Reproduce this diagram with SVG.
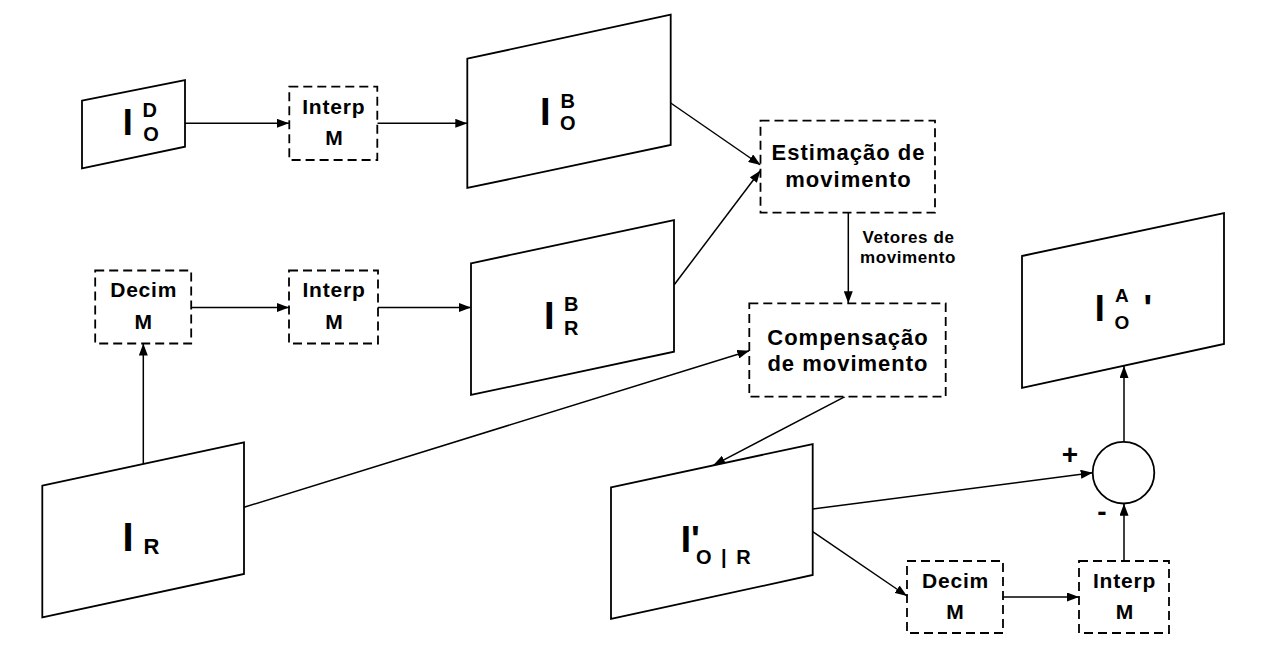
<svg xmlns="http://www.w3.org/2000/svg" width="1271" height="648" viewBox="0 0 1271 648">
<style>
.shape{fill:#fff;stroke:#000;stroke-width:1.8;stroke-linejoin:miter}
.box{fill:#fff;stroke:#000;stroke-width:1.8;stroke-dasharray:9 5}
.con{fill:none;stroke:#000;stroke-width:1.5}
text{font-family:"Liberation Sans",Arial,sans-serif;font-weight:bold;fill:#000}
.bt{font-size:21px;letter-spacing:0.8px;text-anchor:middle}
.lt{font-size:22px;letter-spacing:1px;text-anchor:middle}
.st{font-size:17px;letter-spacing:0.6px;text-anchor:middle}
.big{font-size:38px}
.sm{font-size:20px}
</style>
<defs>
<marker id="arr" viewBox="0 0 12 9" refX="12" refY="4.5" markerWidth="12" markerHeight="9" markerUnits="userSpaceOnUse" orient="auto">
<path d="M0,0 L12,4.5 L0,9 z" fill="#000"/>
</marker>
</defs>
<rect width="1271" height="648" fill="#fff"/>

<g id="connectors">
<line class="con" x1="185" y1="123.3" x2="289" y2="123.3" marker-end="url(#arr)"/>
<line class="con" x1="377.3" y1="123.3" x2="467.3" y2="123.3" marker-end="url(#arr)"/>
<line class="con" x1="670.7" y1="103" x2="760.5" y2="165" marker-end="url(#arr)"/>
<line class="con" x1="674" y1="285" x2="760.5" y2="170.5" marker-end="url(#arr)"/>
<line class="con" x1="143.3" y1="464" x2="143.3" y2="343.5" marker-end="url(#arr)"/>
<line class="con" x1="191" y1="307.5" x2="289" y2="307.5" marker-end="url(#arr)"/>
<line class="con" x1="378" y1="307.5" x2="471" y2="307.5" marker-end="url(#arr)"/>
<line class="con" x1="244" y1="507.3" x2="749.3" y2="350.7" marker-end="url(#arr)"/>
<line class="con" x1="848.3" y1="212.7" x2="848.3" y2="303.3" marker-end="url(#arr)"/>
<line class="con" x1="845" y1="396.7" x2="713.3" y2="465.3" marker-end="url(#arr)"/>
<line class="con" x1="812.7" y1="509" x2="1092.7" y2="472.7" marker-end="url(#arr)"/>
<line class="con" x1="812.7" y1="531.7" x2="907" y2="596" marker-end="url(#arr)"/>
<line class="con" x1="1003" y1="597" x2="1079" y2="597" marker-end="url(#arr)"/>
<line class="con" x1="1124" y1="561" x2="1124" y2="503.7" marker-end="url(#arr)"/>
<line class="con" x1="1124" y1="442" x2="1124" y2="366" marker-end="url(#arr)"/>
</g>

<g id="IOD">
<polygon class="shape" points="82,100.7 185,80 185,146.7 82,168.3"/>
<text x="122.7" y="135" style="font-size:36px">I</text>
<text class="sm" x="142.6" y="116.7">D</text>
<text class="sm" x="143.2" y="141.3">O</text>
</g>

<g id="interp1">
<rect class="box" x="289.3" y="86.7" width="88" height="73.3"/>
<text class="bt" x="333.8" y="113.5">Interp</text>
<text class="bt" x="334.3" y="145">M</text>
</g>

<g id="IOB">
<polygon class="shape" points="467.3,58.7 670.7,14.7 670.7,145 467.3,188"/>
<text class="big" x="540" y="125">I</text>
<text class="sm" x="560.5" y="108">B</text>
<text class="sm" x="560" y="130">O</text>
</g>

<g id="estimacao">
<rect class="box" x="760.5" y="120.7" width="174.5" height="92"/>
<text class="lt" x="848.5" y="160">Estimação de</text>
<text class="lt" x="848.5" y="187">movimento</text>
</g>

<g id="vetores">
<text class="st" x="908.5" y="243">Vetores de</text>
<text class="st" x="908" y="263">movimento</text>
</g>

<g id="decim1">
<rect class="box" x="95.2" y="270.5" width="96" height="73"/>
<text class="bt" x="143.7" y="297">Decim</text>
<text class="bt" x="143.7" y="328.5">M</text>
</g>

<g id="interp2">
<rect class="box" x="289" y="270.5" width="89" height="73"/>
<text class="bt" x="334" y="297">Interp</text>
<text class="bt" x="334.5" y="328.5">M</text>
</g>

<g id="IRB">
<polygon class="shape" points="471,263.3 674,220 674,351.7 471,395"/>
<text class="big" x="544" y="329">I</text>
<text class="sm" x="564" y="311">B</text>
<text class="sm" x="564" y="335">R</text>
</g>

<g id="compensacao">
<rect class="box" x="749.3" y="303.3" width="196.4" height="93.4"/>
<text class="lt" x="848" y="345">Compensação</text>
<text class="lt" x="848" y="371">de movimento</text>
</g>

<g id="IR">
<polygon class="shape" points="42.3,485.7 244,442.3 244,574 42.3,617.3"/>
<text x="122.5" y="550.7" style="font-size:40px">I</text>
<text x="143.5" y="554" style="font-size:22px">R</text>
</g>

<g id="IOR">
<polygon class="shape" points="611,487.3 812.7,444 812.7,575 611,619"/>
<text x="680.7" y="551.7" style="font-size:37px">I'</text>
<text x="696" y="564" style="font-size:20px;letter-spacing:2px">O | R</text>
</g>

<g id="sum">
<circle class="shape" cx="1123.5" cy="472.7" r="30.8"/>
<text x="1070" y="463.5" style="font-size:28px;text-anchor:middle">+</text>
<text x="1102" y="521.3" style="font-size:28px;text-anchor:middle">-</text>
</g>

<g id="decim2">
<rect class="box" x="907" y="561" width="96" height="72"/>
<text class="bt" x="955.5" y="587.6">Decim</text>
<text class="bt" x="955.5" y="619.3">M</text>
</g>

<g id="interp3">
<rect class="box" x="1079" y="561" width="90" height="72"/>
<text class="bt" x="1124.5" y="587.6">Interp</text>
<text class="bt" x="1125" y="619.3">M</text>
</g>

<g id="IOA">
<polygon class="shape" points="1022,256 1224,213 1224,344 1022,388"/>
<text x="1094.7" y="321" style="font-size:36px">I</text>
<text x="1115" y="302" style="font-size:19px">A</text>
<text x="1114.5" y="329" style="font-size:19px">O</text>
<text x="1143.5" y="321" style="font-size:36px">'</text>
</g>
</svg>
